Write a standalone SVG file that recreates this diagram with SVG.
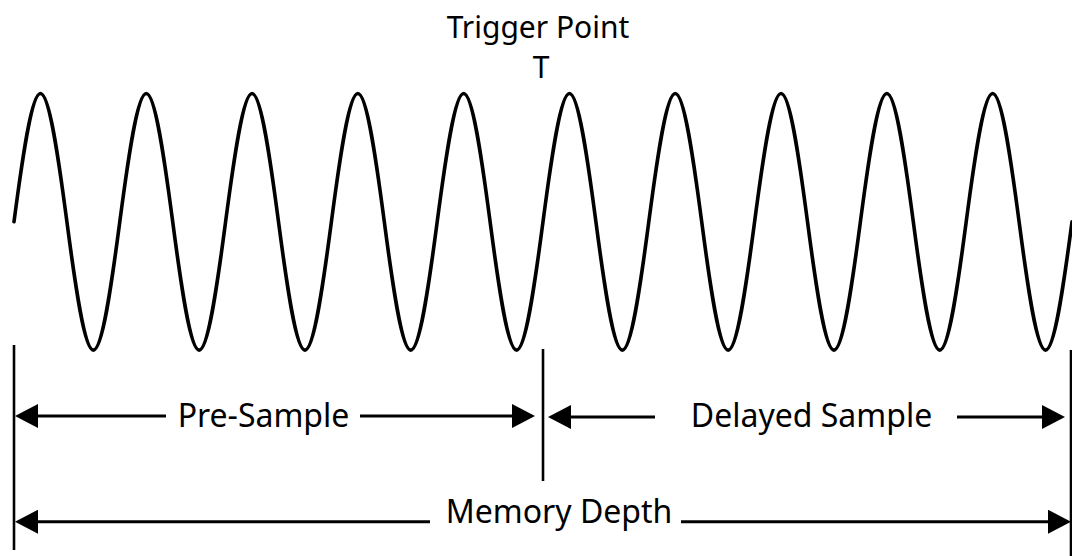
<svg xmlns="http://www.w3.org/2000/svg" width="1072" height="556" viewBox="0 0 1072 556">
<style>
.lbl{font-family:"Noto Sans","Open Sans","DejaVu Sans",sans-serif;font-size:32px;fill:#000;text-anchor:middle}
.ttl{font-size:30px}
.wave{fill:none;stroke:#000;stroke-width:3.6;stroke-linecap:round}
.vl{stroke:#000;stroke-width:2.6;fill:none}
.ar{stroke:#000;stroke-width:3;fill:none}
</style>
<defs>
<marker id="ah" viewBox="0 0 23 24" refX="0" refY="12" markerWidth="23" markerHeight="24" markerUnits="userSpaceOnUse" orient="auto-start-reverse">
<path d="M0,0 L23,12 L0,24 Z" fill="#000"/>
</marker>
</defs>
<rect width="1072" height="556" fill="#fff"/>
<g id="title">
<text class="lbl ttl" x="538" y="37.5">Trigger Point</text>
<text class="lbl ttl" x="541" y="78">T</text>
</g>
<g id="waveform">
<path class="wave" d="M14,221.8 c8.63,-65.73 17.49,-128.3 26.45,-128.3 s17.82,62.57 26.45,128.3 s17.49,128.3 26.45,128.3 s17.82,-62.57 26.45,-128.3
s17.49,-128.3 26.45,-128.3 s17.82,62.57 26.45,128.3 s17.49,128.3 26.45,128.3 s17.82,-62.57 26.45,-128.3
s17.49,-128.3 26.45,-128.3 s17.82,62.57 26.45,128.3 s17.49,128.3 26.45,128.3 s17.82,-62.57 26.45,-128.3
s17.49,-128.3 26.45,-128.3 s17.82,62.57 26.45,128.3 s17.49,128.3 26.45,128.3 s17.82,-62.57 26.45,-128.3
s17.49,-128.3 26.45,-128.3 s17.82,62.57 26.45,128.3 s17.49,128.3 26.45,128.3 s17.82,-62.57 26.45,-128.3
s17.49,-128.3 26.45,-128.3 s17.82,62.57 26.45,128.3 s17.49,128.3 26.45,128.3 s17.82,-62.57 26.45,-128.3
s17.49,-128.3 26.45,-128.3 s17.82,62.57 26.45,128.3 s17.49,128.3 26.45,128.3 s17.82,-62.57 26.45,-128.3
s17.49,-128.3 26.45,-128.3 s17.82,62.57 26.45,128.3 s17.49,128.3 26.45,128.3 s17.82,-62.57 26.45,-128.3
s17.49,-128.3 26.45,-128.3 s17.82,62.57 26.45,128.3 s17.49,128.3 26.45,128.3 s17.82,-62.57 26.45,-128.3
s17.49,-128.3 26.45,-128.3 s17.82,62.57 26.45,128.3 s17.49,128.3 26.45,128.3 s17.82,-62.57 26.45,-128.3"/>
</g>
<g id="pre-sample"><text class="lbl" x="263.5" y="427">Pre-Sample</text></g>
<g id="delayed-sample"><text class="lbl" x="811.5" y="427">Delayed Sample</text></g>
<g id="memory-depth"><text class="lbl" x="559" y="523">Memory Depth</text></g>
<g id="connectors">
<line class="vl" x1="14" y1="345" x2="14" y2="550"/>
<line class="vl" x1="543" y1="349" x2="543" y2="481"/>
<line class="vl" x1="1071" y1="350" x2="1071" y2="556"/>
<line class="ar" x1="38" y1="416" x2="166" y2="416" marker-start="url(#ah)"/>
<line class="ar" x1="360" y1="416" x2="512" y2="416" marker-end="url(#ah)"/>
<line class="ar" x1="571" y1="417" x2="655" y2="417" marker-start="url(#ah)"/>
<line class="ar" x1="957" y1="417" x2="1042" y2="417" marker-end="url(#ah)"/>
<line class="ar" x1="38" y1="521.7" x2="430" y2="521.7" marker-start="url(#ah)"/>
<line class="ar" x1="681" y1="521.7" x2="1048" y2="521.7" marker-end="url(#ah)"/>
</g>
</svg>
